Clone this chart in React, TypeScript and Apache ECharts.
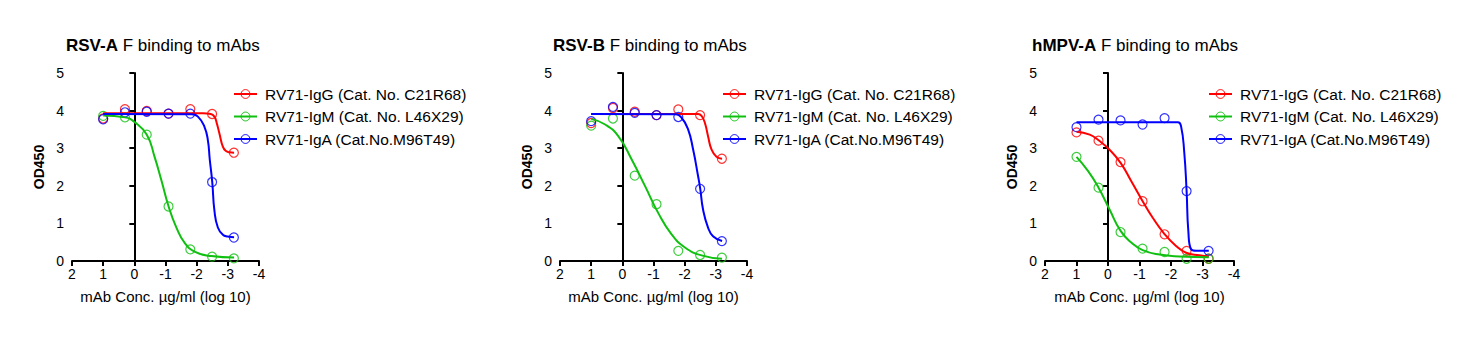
import { useEffect, useRef } from "react";
import * as echarts from "echarts";

// log10 of mAb concentration (µg/ml), 5-fold dilutions from 10 µg/ml
const logConc = [1, 0.301, -0.398, -1.097, -1.796, -2.495, -3.194];

const panelBold = ["RSV-A", "RSV-B", "hMPV-A"];
const panelRest = " F binding to mAbs";
const antibodyNames = [
  "RV71-IgG (Cat. No. C21R68)",
  "RV71-IgM (Cat. No. L46X29)",
  "RV71-IgA (Cat.No.M96T49)",
];
const colors = ["#FF0000", "#10C010", "#0000FF"];

// measured OD450 points
const rsvA_IgG = [3.79, 4.04, 3.99, 3.92, 4.04, 3.91, 2.88];
const rsvA_IgM = [3.86, 3.82, 3.36, 1.45, 0.31, 0.115, 0.07];
const rsvA_IgA = [3.77, 3.955, 3.97, 3.92, 3.92, 2.1, 0.625];

const rsvB_IgG = [3.67, 4.07, 3.97, 3.88, 4.03, 3.88, 2.72];
const rsvB_IgM = [3.6, 3.79, 2.27, 1.51, 0.27, 0.16, 0.09];
const rsvB_IgA = [3.72, 4.1, 3.94, 3.88, 3.83, 1.92, 0.53];

const hmpvA_IgG = [3.42, 3.2, 2.63, 1.59, 0.71, 0.27, 0.06];
const hmpvA_IgM = [2.77, 1.95, 0.77, 0.33, 0.24, 0.06, 0.06];
const hmpvA_IgA = [3.56, 3.76, 3.74, 3.63, 3.8, 1.86, 0.27];

// fitted curves as [log conc, OD450]
const rsvA_IgG_fit = [[1, 3.93], [-2.2, 3.93], [-2.45, 3.91], [-2.57, 3.84], [-2.65, 3.65], [-2.73, 3.39], [-2.84, 3.04], [-2.93, 2.93], [-3.05, 2.89], [-3.2, 2.88]];
const rsvA_IgM_fit = [[1, 3.87], [0.3, 3.82], [0, 3.7], [-0.4, 3.36], [-0.65, 2.77], [-0.87, 2.14], [-1.1, 1.45], [-1.35, 0.89], [-1.61, 0.49], [-1.93, 0.25], [-2.47, 0.13], [-3.2, 0.09]];
const rsvA_IgA_fit = [[1, 3.91], [-1.83, 3.9], [-2.04, 3.84], [-2.25, 3.57], [-2.36, 3.21], [-2.42, 2.7], [-2.5, 2.1], [-2.57, 1.34], [-2.68, 0.89], [-2.84, 0.7], [-3.0, 0.65], [-3.2, 0.63]];

const rsvB_IgG_fit = [[1, 3.91], [-2.43, 3.91], [-2.55, 3.85], [-2.65, 3.67], [-2.75, 3.32], [-2.86, 2.97], [-3.02, 2.77], [-3.2, 2.72]];
const rsvB_IgM_fit = [[1, 3.78], [0.55, 3.63], [0.13, 3.32], [-0.3, 2.7], [-0.73, 1.99], [-1.15, 1.28], [-1.58, 0.71], [-2.01, 0.36], [-2.54, 0.15], [-3.2, 0.06]];
const rsvB_IgA_fit = [[1, 3.91], [-1.69, 3.9], [-1.9, 3.81], [-2.11, 3.5], [-2.27, 2.97], [-2.43, 2.26], [-2.5, 1.92], [-2.59, 1.37], [-2.75, 0.89], [-2.91, 0.66], [-3.2, 0.53]];

const hmpvA_IgG_fit = [[1, 3.44], [0.58, 3.36], [0.3, 3.21], [-0.05, 2.96], [-0.4, 2.61], [-0.74, 2.12], [-1.1, 1.59], [-1.42, 1.15], [-1.8, 0.71], [-2.16, 0.4], [-2.48, 0.22], [-2.9, 0.15], [-3.2, 0.12]];
const hmpvA_IgM_fit = [[1, 2.77], [0.63, 2.39], [0.3, 1.95], [-0.05, 1.37], [-0.4, 0.8], [-0.74, 0.49], [-1.1, 0.29], [-1.64, 0.17], [-2.27, 0.12], [-3.2, 0.1]];
const hmpvA_IgA_fit = [[1, 3.69], [-2.22, 3.69], [-2.32, 3.58], [-2.42, 2.9], [-2.495, 1.86], [-2.55, 0.8], [-2.64, 0.31], [-2.8, 0.27], [-3.2, 0.27]];

const panelPoints = [
  [rsvA_IgG, rsvA_IgM, rsvA_IgA],
  [rsvB_IgG, rsvB_IgM, rsvB_IgA],
  [hmpvA_IgG, hmpvA_IgM, hmpvA_IgA],
];
const panelFits = [
  [rsvA_IgG_fit, rsvA_IgM_fit, rsvA_IgA_fit],
  [rsvB_IgG_fit, rsvB_IgM_fit, rsvB_IgA_fit],
  [hmpvA_IgG_fit, hmpvA_IgM_fit, hmpvA_IgA_fit],
];

const FONT = "'Liberation Sans', Arial, sans-serif";

const grids = [
  { left: 72, top: 73, width: 187, height: 188 },
  { left: 560, top: 73, width: 187, height: 188 },
  { left: 1045, top: 73, width: 189, height: 188 },
];
const titlePos = [
  { left: 61, top: 32 },
  { left: 548, top: 32 },
  { left: 1027, top: 32 },
];
const legendPos = [
  { left: 228, top: 81 },
  { left: 717, top: 81 },
  { left: 1203, top: 81 },
];

export default function App() {
  const ref = useRef<HTMLDivElement>(null);

  useEffect(() => {
    if (!ref.current) return;
    const chart = echarts.init(ref.current, null, { renderer: "svg" });

    const axisLine = { show: true, lineStyle: { color: "#000", width: 2 } };
    const axisTick = { show: true, length: 5, lineStyle: { color: "#000", width: 2 } };

    const series: any[] = [];
    panelFits.forEach((fits, p) => {
      fits.forEach((fit, a) => {
        series.push({
          type: "line",
          name: antibodyNames[a],
          xAxisIndex: p,
          yAxisIndex: p,
          data: fit,
          smooth: 0.5,
          symbol: "circle",
          symbolSize: 9,
          showSymbol: false,
          lineStyle: { color: colors[a], width: 2 },
          itemStyle: { color: "rgba(255,255,255,0)", borderColor: colors[a], borderWidth: 1 },
          z: 3,
        });
      });
      panelPoints[p].forEach((vals, a) => {
        series.push({
          type: "scatter",
          name: antibodyNames[a] + " data",
          xAxisIndex: p,
          yAxisIndex: p,
          data: logConc.map((x, i) => [x, vals[i]]),
          symbol: "circle",
          symbolSize: 9,
          itemStyle: { color: "rgba(255,255,255,0)", borderColor: colors[a], borderWidth: 1.2 },
          z: 2,
        });
      });
    });

    chart.setOption({
      animation: false,
      textStyle: { fontFamily: FONT, color: "#000" },
      title: panelBold.map((b, p) => ({
        ...titlePos[p],
        text: `{b|${b}}${panelRest}`,
        textStyle: {
          fontFamily: FONT,
          fontSize: 17,
          fontWeight: "normal",
          color: "#000",
          rich: { b: { fontFamily: FONT, fontSize: 17, fontWeight: "bold", color: "#000" } },
        },
      })),
      legend: legendPos.map((pos) => ({
        ...pos,
        orient: "vertical",
        itemWidth: 23,
        itemHeight: 11,
        itemGap: 6.5,
        selectedMode: false,
        textStyle: { fontFamily: FONT, fontSize: 15.5, color: "#000", lineHeight: 16, padding: [0, 0, 0, 3] },
        data: antibodyNames.map((n, a) => ({
          name: n,
          itemStyle: { color: "rgba(255,255,255,0)", borderColor: colors[a], borderWidth: 1 },
          lineStyle: { color: colors[a], width: 2 },
        })),
      })),
      grid: grids.map((g) => ({ ...g, containLabel: false })),
      xAxis: grids.map((_, p) => ({
        type: "value",
        gridIndex: p,
        min: -4,
        max: 2,
        interval: 1,
        inverse: true,
        name: "mAb Conc. µg/ml (log 10)",
        nameLocation: "middle",
        nameGap: 28,
        nameTextStyle: { fontFamily: FONT, fontSize: 15, color: "#000" },
        axisLine,
        axisTick,
        splitLine: { show: false },
        axisLabel: { fontFamily: FONT, fontSize: 14, color: "#000", margin: 6 },
      })),
      yAxis: grids.map((_, p) => ({
        type: "value",
        gridIndex: p,
        min: 0,
        max: 5,
        interval: 1,
        name: "OD450",
        nameLocation: "middle",
        nameGap: 26,
        nameTextStyle: { fontFamily: FONT, fontSize: 14, fontWeight: "bold", color: "#000" },
        axisLine,
        axisTick,
        splitLine: { show: false },
        axisLabel: { fontFamily: FONT, fontSize: 14, color: "#000", margin: 8 },
      })),
      series,
    });

    return () => chart.dispose();
  }, []);

  return (
    <div
      ref={ref}
      style={{ position: "fixed", left: 0, top: 0, width: 1480, height: 344, background: "#fff" }}
    />
  );
}
